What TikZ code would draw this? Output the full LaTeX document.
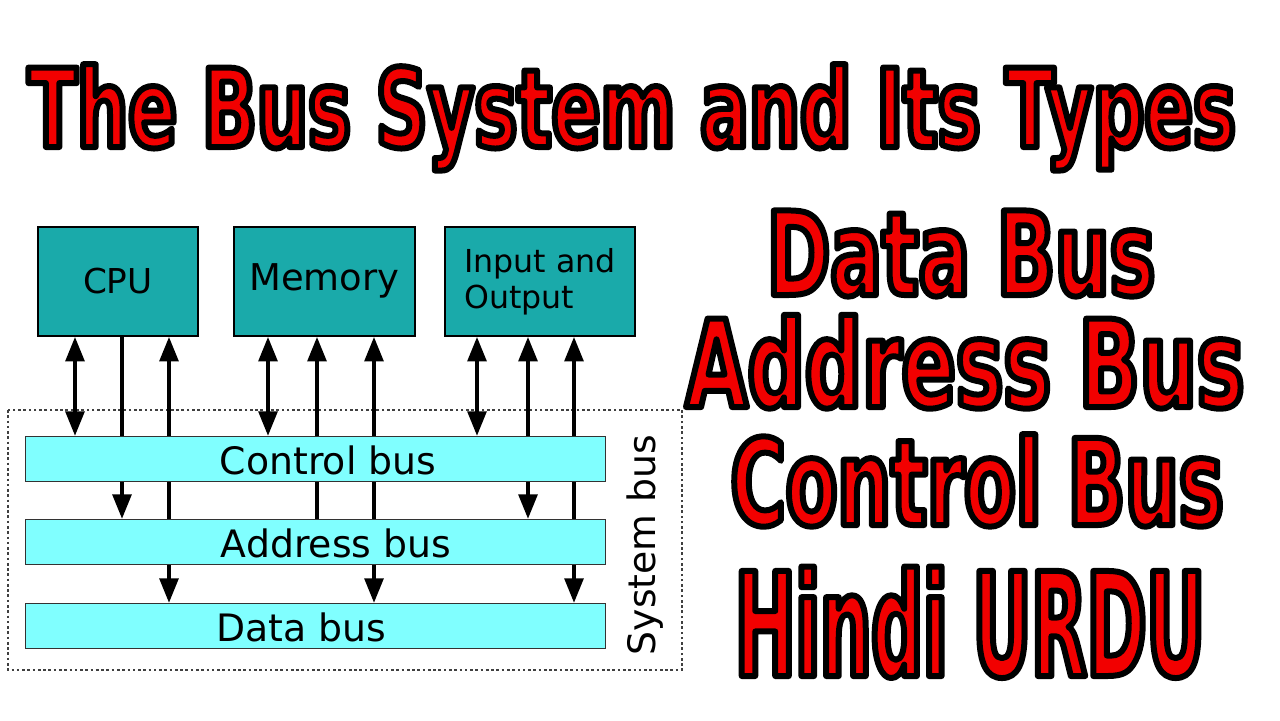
\documentclass[tikz,border=0pt]{standalone}
\usepackage{fontspec}
\setmainfont{DejaVu Sans}
\newfontfamily\headfont{DejaVu Sans}[FakeStretch=0.66]
\newfontfamily\narrowfont{DejaVu Sans}[FakeStretch=0.63]
\newfontfamily\slimfont{DejaVu Sans}[FakeStretch=0.5]
\usetikzlibrary{arrows.meta,backgrounds}

\definecolor{unitteal}{RGB}{26,170,170}
\definecolor{buscyan}{RGB}{128,255,255}
\definecolor{headred}{RGB}{242,0,0}

% red heading text with a black rim (fill and stroke)
\newcommand{\redtxt}[1]{{\color{headred}%
  \special{pdf:literal direct 0.95 0 0 rg 0 0 0 RG 2 Tr 3.4 w 1 j}#1%
  \special{pdf:literal direct 0 Tr 0.4 w 0 j}}}

\tikzset{
  >={Triangle[length=14pt,width=10.5pt]},
  unit/.style={draw=black, line width=1pt, fill=unitteal, anchor=north west,
    minimum height=2.18cm, font=\fontsize{21}{26}\selectfont},
  busbar/.style={draw=black!80, line width=0.8pt, fill=buscyan, anchor=north west,
    minimum width=11.6cm, minimum height=0.9cm},
  buslbl/.style={font=\fontsize{21.5}{26}\selectfont},
  link/.style={line width=2.5pt},
  heading/.style={anchor=base, inner sep=0pt}
}

\begin{document}
\begin{tikzpicture}[x=0.02cm,y=-0.02cm]
\useasboundingbox (0,0) rectangle (1280,720);

% units
\node[unit, minimum width=3.2cm, font=\fontsize{19.5}{24}\selectfont] (cpu) at (37,226) {CPU};
\node[unit, minimum width=3.62cm] (mem) at (233,226) {Memory};
\node[unit, minimum width=3.8cm, align=left, font=\fontsize{18}{20.4}\selectfont] (io) at (444,226) {Input and\\Output};

% buses
\node[busbar] (ctrl) at (25,436) {};
\node[busbar] (addr) at (25,519) {};
\node[busbar] (data) at (25,603) {};
\node[buslbl] (ctrllbl) at (328,460) {Control bus};
\node[buslbl] (addrlbl) at (336,543) {Address bus};
\node[buslbl] (datalbl) at (301,627) {Data bus};
\node[buslbl, rotate=90] (syslbl) at (645,545) {System bus};

\begin{scope}[on background layer]
\draw[black!75, line width=0.8pt, dash pattern=on 1.5pt off 1.5pt] (8,410) rectangle (682,670);
\draw[link,<->] (75,0 |- cpu.south) -- (75,0 |- ctrl.north);
\draw[link,->] (122,0 |- cpu.south) -- (122,0 |- addr.north);
\draw[link,<->] (169,0 |- cpu.south) -- (169,0 |- data.north);
\draw[link,<->] (268,0 |- mem.south) -- (268,0 |- ctrl.north);
\draw[link,->] (317,0 |- addr.north) -- (317,0 |- mem.south);
\draw[link,<->] (374,0 |- mem.south) -- (374,0 |- data.north);
\draw[link,<->] (477,0 |- io.south) -- (477,0 |- ctrl.north);
\draw[link,<->] (528,0 |- io.south) -- (528,0 |- addr.north);
\draw[link,<->] (574,0 |- io.south) -- (574,0 |- data.north);
\end{scope}

% headings
\node[heading, font=\fontsize{62}{70}\selectfont\headfont\bfseries] (title) at (632,147) {\redtxt{The Bus System and Its Types}};
\node[heading, font=\fontsize{66}{74}\selectfont\headfont\bfseries] (tdata) at (961,295) {\redtxt{Data Bus}};
\node[heading, font=\fontsize{69}{77}\selectfont\headfont\bfseries] (taddr) at (965,407) {\redtxt{Address Bus}};
\node[heading, font=\fontsize{68}{76}\selectfont\narrowfont\bfseries] (tctrl) at (977,525) {\redtxt{Control Bus}};
\node[heading, font=\fontsize{82}{90}\selectfont\slimfont\bfseries] (thindi) at (970,676) {\redtxt{Hindi URDU}};
\end{tikzpicture}
\end{document}
